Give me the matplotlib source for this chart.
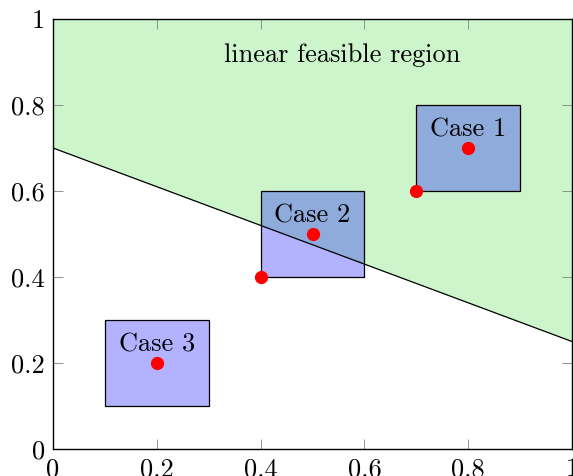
from matplotlib import pyplot as plt
from matplotlib.patches import Rectangle
import numpy as np

plt.rcParams['font.family'] = ['cmr10', 'DejaVu Serif']
plt.rcParams['axes.formatter.use_mathtext'] = True
plt.rcParams['mathtext.fontset'] = 'cm'

# boundary line of the linear feasible region
line_x = [0.0, 1.0]
line_y = [0.7, 0.25]

# cases: box lower-left corner, box centre (label + dot)
case_names = ["Case 1", "Case 2", "Case 3"]
box_x0 = [0.7, 0.4, 0.1]
box_y0 = [0.6, 0.4, 0.1]
box_w = 0.2
centre_x = [0.8, 0.5, 0.2]
centre_y = [0.7, 0.5, 0.2]
corner_x = [0.7, 0.4]
corner_y = [0.6, 0.4]

ticks = [0, 0.2, 0.4, 0.6, 0.8, 1]
tick_labels = ["0", "0.2", "0.4", "0.6", "0.8", "1"]

fig = plt.figure(figsize=(5.73, 4.76), dpi=100)
ax = fig.add_axes([53 / 573, 27 / 476, 519 / 573, 430 / 476])

ax.fill_between(line_x, line_y, [1, 1], color=(0.8, 0.96, 0.8), lw=0, zorder=1)

for i in range(len(case_names)):
    ax.add_patch(Rectangle((box_x0[i], box_y0[i]), box_w, box_w,
                           facecolor=(0, 0, 1, 0.3), edgecolor="black", lw=0.9, zorder=2))
    ax.text(centre_x[i], centre_y[i] + 0.043, case_names[i], ha="center", va="center",
            fontsize=19, zorder=5)

ax.plot(line_x, line_y, color="black", lw=0.9, zorder=3)
ax.plot(centre_x, centre_y, "o", color="red", ms=8.5, zorder=4)
ax.plot(corner_x, corner_y, "o", color="red", ms=8.5, zorder=4)

ax.text(0.557, 0.916, "linear feasible region", ha="center", va="center", fontsize=19)

ax.set_xlim(0, 1)
ax.set_ylim(0, 1)
ax.set_xticks(ticks)
ax.set_xticklabels(tick_labels)
ax.set_yticks(ticks)
ax.set_yticklabels(tick_labels)
ax.tick_params(direction="in", length=7, color="gray", width=0.6, labelsize=19,
               top=True, right=True, pad=6)
for s in ax.spines.values():
    s.set_linewidth(1.0)
    s.set_zorder(6)

plt.savefig("out.png")
plt.close()
